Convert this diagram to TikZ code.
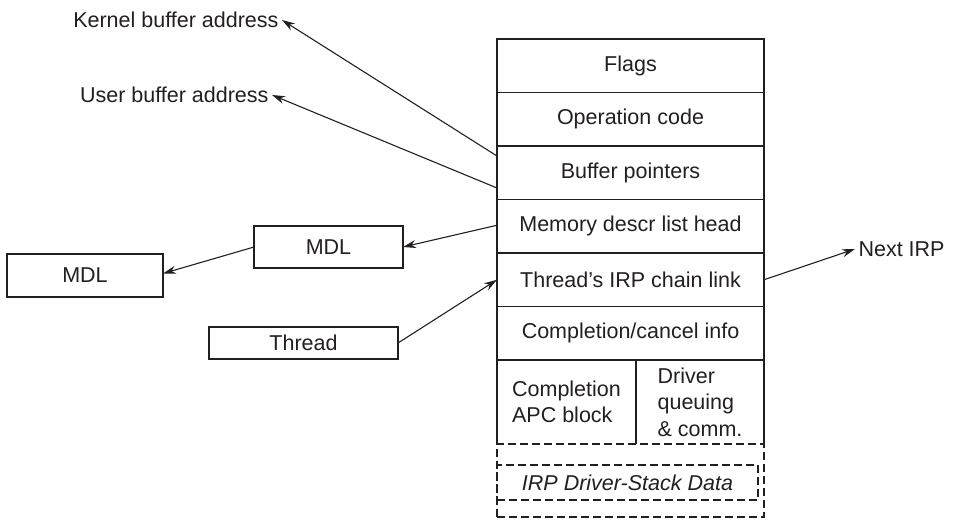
\documentclass[tikz,border=0pt]{standalone}
\usepackage{fontspec}
\setmainfont{Liberation Sans}
\usetikzlibrary{shapes,arrows.meta,positioning,fit}
\definecolor{ink}{RGB}{35,31,32}

\begin{document}
\begin{tikzpicture}[x=1pt, y=-1pt, color=ink,
    font=\fontsize{21.5}{26.5}\selectfont,
    row/.style={rectangle, draw, line width=1.5pt, minimum width=267pt, minimum height=53.5pt, inner sep=0pt, outer sep=0pt},
    block/.style={rectangle, draw, line width=1.5pt, inner sep=0pt, outer sep=0pt},
    dashedbox/.style={block, dash pattern=on 8pt off 4pt},
    arrow/.style={-{Stealth[length=13pt, width=8pt]}, line width=1.1pt}
]
\useasboundingbox (0,0) rectangle (955,519);

% IRP fields
\node[row] (flags) at (630.5,65.75) {Flags};
\node[row, below=0pt of flags] (opcode) {Operation code};
\node[row, below=0pt of opcode] (buf) {Buffer pointers};
\node[row, below=0pt of buf] (mdlhead) {Memory descr list head};
\node[row, below=0pt of mdlhead] (chain) {Thread's IRP chain link};
\node[row, below=0pt of chain] (cancel) {Completion/cancel info};
\node[block, draw=none, minimum width=139pt, minimum height=84pt, align=left, below right=0pt and 0pt of cancel.south west] (apc) {Completion\\APC block};
\node[block, draw=none, minimum width=128pt, minimum height=84pt, align=left, right=0pt of apc] (drvq) {Driver\\queuing\\\& comm.};
\draw[line width=1.5pt] (apc.south west) -- (apc.north west);
\draw[line width=1.5pt] (apc.north east) -- (apc.south east);
\draw[line width=1.5pt] (drvq.north east) -- (drvq.south east);

% stack data (dashed)
\node[dashedbox, minimum width=267pt, minimum height=73pt, below right=0pt and 0pt of apc.south west] (stack) {};
\node[dashedbox, minimum width=261pt, minimum height=35pt, anchor=west, font=\fontsize{21.5}{26.5}\selectfont\itshape] (stkdata) at ([yshift=-2pt]stack.west) {IRP Driver-Stack Data};

% other blocks
\node[block, minimum width=149pt, minimum height=42pt] (mdl1) at (328.5,247) {MDL};
\node[block, minimum width=156pt, minimum height=43pt] (mdl2) at (85,275.5) {MDL};
\node[block, minimum width=189pt, minimum height=32pt] (thread) at (303.5,343) {Thread};
\node[anchor=east] (kaddr) at (282,20) {Kernel buffer address};
\node[anchor=east] (uaddr) at (272,95) {User buffer address};
\node[anchor=west] (next) at (855,249) {Next IRP};

\draw[arrow] ([yshift=16.75pt]buf.west) -- (kaddr.east);
\draw[arrow] ([yshift=-15.25pt]buf.west) -- (uaddr.east);
\draw[arrow] ([yshift=1pt]mdlhead.west) -- (mdl1.east);
\draw[arrow] (mdl1.west) -- ([yshift=2pt]mdl2.east);
\draw[arrow] (thread.east) -- (chain.west);
\draw[arrow] (chain.east) -- (next.west);

\end{tikzpicture}
\end{document}
